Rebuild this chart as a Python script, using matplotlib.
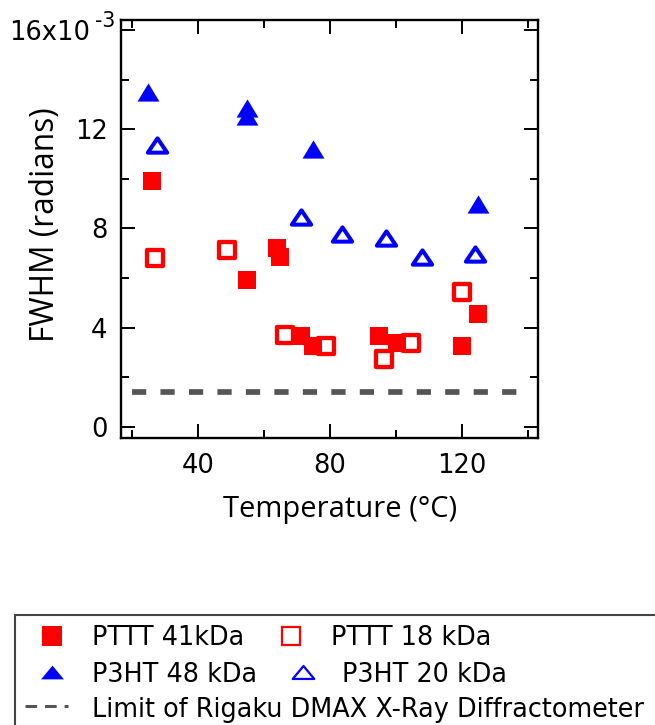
import matplotlib
matplotlib.use("Agg")
import matplotlib.pyplot as plt
from matplotlib.lines import Line2D
from matplotlib.markers import MarkerStyle
from matplotlib.patches import Rectangle
from matplotlib.path import Path

plt.rcParams['font.family'] = ['DejaVu Sans']

# FWHM values in units of 1e-3 radians
pttt41_temp = [26.1, 54.9, 63.9, 64.9, 71.1, 74.8, 94.8, 100.2, 119.9, 124.9]
pttt41_fwhm = [9.89, 5.90, 7.20, 6.85, 3.68, 3.27, 3.65, 3.37, 3.26, 4.55]

pttt18_temp = [27.0, 48.9, 66.5, 78.8, 96.3, 104.5, 119.9]
pttt18_fwhm = [6.80, 7.13, 3.69, 3.27, 2.73, 3.36, 5.42]

p3ht48_temp = [24.9, 54.9, 54.9, 74.9, 124.9]
p3ht48_fwhm = [13.49, 12.87, 12.54, 11.21, 8.98]

p3ht20_temp = [27.5, 71.2, 83.7, 96.9, 107.9, 123.8]
p3ht20_fwhm = [11.35, 8.46, 7.79, 7.61, 6.84, 6.96]

limit_temp = [20, 137]
limit_fwhm = 1.41

y_ticks = [0, 4, 8, 12, 16]
y_ticklabels = ['0', '4', '8', '12', '']
top_label = '16x10'
top_exponent = '-3'
x_ticks = [40, 80, 120]

legend_labels = ['PTTT 41kDa', 'PTTT 18 kDa', 'P3HT 48 kDa', 'P3HT 20 kDa',
                 'Limit of Rigaku DMAX X-Ray Diffractometer']

RED = '#ff0000'
BLUE = '#0000ff'
GREY = '#555555'
LABEL_FONT = ['Open Sans', 'DejaVu Sans']
PT = 0.72  # points per pixel at 100 dpi

W, H = 655, 725
fig = plt.figure(figsize=(W / 100, H / 100), dpi=100)
ax = fig.add_axes([120.7 / W, 1 - 438 / H, (538 - 120.7) / W, (438 - 20) / H])


def tri(ratio):
    return Path([(0, ratio), (-1, -ratio), (1, -ratio), (0, ratio)], closed=True)


tri_filled = MarkerStyle(tri(0.83))
tri_open = MarkerStyle(tri(0.74), joinstyle='round')
sq_open = MarkerStyle('s', joinstyle='round')

ax.plot(limit_temp, [limit_fwhm] * 2, color=GREY, lw=4.1, dashes=(2.5, 2.5),
        solid_capstyle='butt', dash_capstyle='butt')

ax.plot(pttt18_temp, pttt18_fwhm, ls='none', marker=sq_open, ms=11.3,
        mfc='none', mec=RED, mew=3.1)
ax.plot(pttt41_temp, pttt41_fwhm, ls='none', marker='s', ms=13.3,
        mfc=RED, mec=RED, mew=0)
ax.plot(p3ht20_temp, p3ht20_fwhm, ls='none', marker=tri_open, ms=13.9,
        mfc='none', mec=BLUE, mew=2.9)
ax.plot(p3ht48_temp, p3ht48_fwhm, ls='none', marker=tri_filled, ms=15.8,
        mfc=BLUE, mec=BLUE, mew=0)

ax.set_xlim(16.6, 143)
ax.set_ylim(-0.45, 16.4)
ax.set_xticks(x_ticks)
ax.set_xticks([20, 60, 100, 140], minor=True)
ax.set_yticks(y_ticks)
ax.set_yticklabels(y_ticklabels)
ax.set_yticks([2, 6, 10, 14], minor=True)

for s in ax.spines.values():
    s.set_linewidth(1.7)
ax.tick_params(which='both', direction='in', top=True, right=True, width=1.4,
               labelsize=18.5, colors='black')
ax.tick_params(which='major', length=10)
ax.tick_params(which='minor', length=5.5)
ax.tick_params(axis='y', pad=9.5)
ax.tick_params(axis='x', pad=11)

# Top y tick label with its power-of-ten exponent
ax.annotate(top_label, xy=(0, y_ticks[-1]), xycoords=('axes fraction', 'data'),
            xytext=(-(120.7 - 90) * PT, 0), textcoords='offset points',
            ha='right', va='center_baseline', fontsize=18.5, annotation_clip=False)
ax.annotate(top_exponent, xy=(0, y_ticks[-1]), xycoords=('axes fraction', 'data'),
            xytext=(-(120.7 - 95) * PT, 10.5 * PT), textcoords='offset points',
            ha='left', va='center_baseline', fontsize=14.8, annotation_clip=False)

ax.set_xlabel('Temperature (°C)', fontsize=21, family=LABEL_FONT, va='center')
ax.xaxis.set_label_coords(0.5255, -0.172)
ax.set_ylabel('FWHM (radians)', fontsize=22.8, family=LABEL_FONT, va='center')
ax.yaxis.set_label_coords(-0.181, 0.51)


# Legend box, drawn in pixel coordinates of the figure
def fx(px):
    return px / W


def fy(py):
    return 1 - py / H


fig.add_artist(Rectangle((fx(15), fy(790)), fx(700) - fx(15), fy(615) - fy(790),
                         transform=fig.transFigure, fill=False,
                         edgecolor='#444444', lw=1.5))

fig.add_artist(Line2D([fx(52)], [fy(636)], transform=fig.transFigure, ls='none',
                      marker='s', ms=14, mfc=RED, mec=RED, mew=0))
fig.add_artist(Line2D([fx(291)], [fy(636)], transform=fig.transFigure, ls='none',
                      marker='s', ms=13.5, mfc='none', mec=RED, mew=1.6))
fig.add_artist(Line2D([fx(52)], [fy(672)], transform=fig.transFigure, ls='none',
                      marker=MarkerStyle(tri(0.6)), ms=16.5, mfc=BLUE, mec=BLUE, mew=0))
fig.add_artist(Line2D([fx(303)], [fy(672)], transform=fig.transFigure, ls='none',
                      marker=MarkerStyle(tri(0.6)), ms=15.5, mfc='none', mec=BLUE, mew=1.6))
fig.add_artist(Line2D([fx(25), fx(68)], [fy(706), fy(706)], transform=fig.transFigure,
                      color=GREY, lw=2.2, dashes=(3.8, 2.6)))

legend_pos = [(92, 645), (331, 645), (92, 681.7), (342, 681.7), (92, 716.7)]
for (px, py), lab in zip(legend_pos, legend_labels):
    fig.text(fx(px), fy(py), lab, fontsize=18.4, ha='left', va='baseline')

fig.savefig('out.png', dpi=100)
